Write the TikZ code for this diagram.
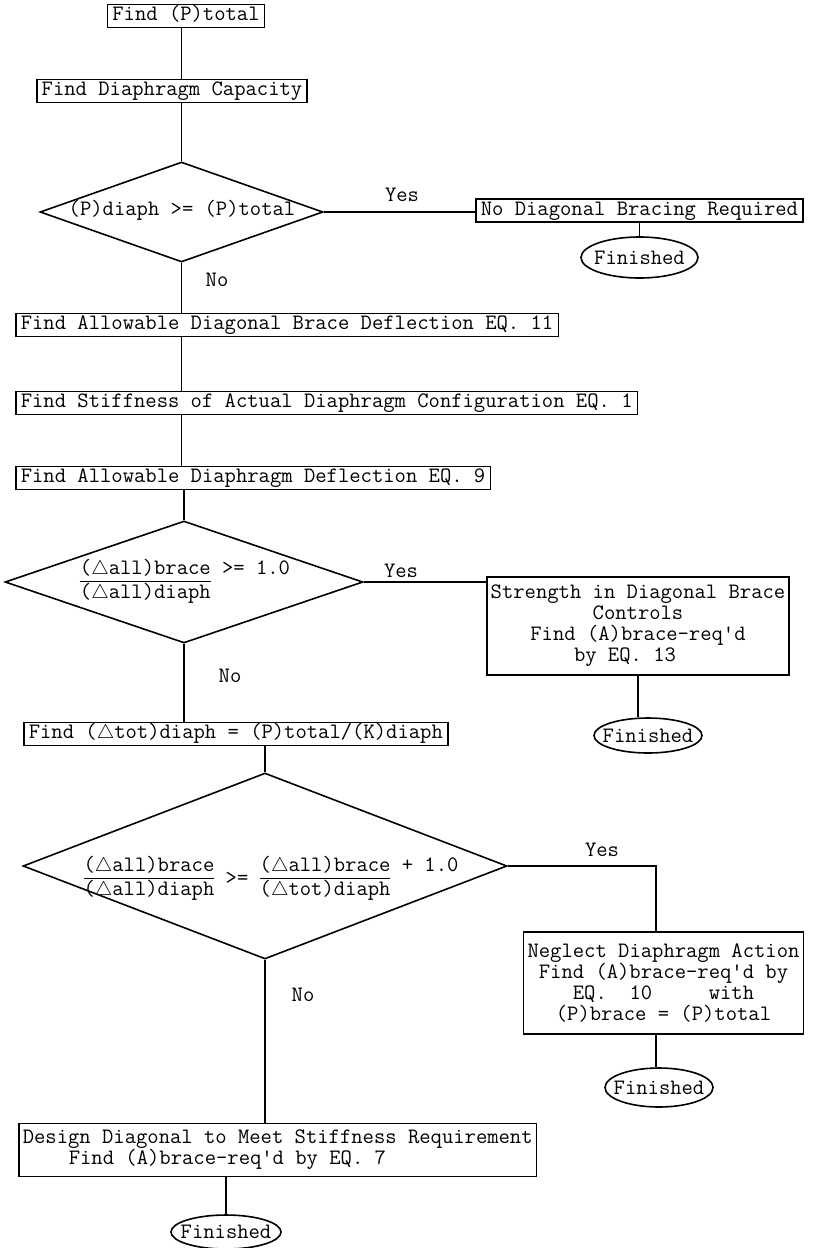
\documentclass[tikz,border=0pt]{standalone}
\usetikzlibrary{shapes.geometric}
\newcommand{\tri}{\scalebox{0.9}{$\triangle$}}

\begin{document}
\begin{tikzpicture}[x=0.5pt,y=-0.5pt,line width=0.8pt,
  every node/.style={font=\fontsize{11pt}{10.5pt}\selectfont\ttfamily},
  procbox/.style={draw,rectangle,inner xsep=2.5pt,inner ysep=0pt,minimum height=11.5pt,text height=7pt,text depth=2.2pt},
  multibox/.style={draw,rectangle,align=center,inner xsep=2pt},
  decision/.style={draw,diamond,inner sep=0pt},
  term/.style={draw,ellipse,inner sep=0pt}]
  \useasboundingbox (0,0) rectangle (815,1248);
  % cajas de arriba
  \node[procbox] (ptot) at (186,16) {Find (P)total};
  \node[procbox] (cap) at (172,91) {Find Diaphragm Capacity};
  % primera decision
  \node[decision,minimum width=141.5pt,minimum height=50pt] (dec1) at (181.5,212) {};
  \node (dec1txt) at (182,210) {(P)diaph >= (P)total};
  \node[procbox,anchor=west] (nobr) at (475,210.5) {No Diagonal Bracing Required};
  \node[term,minimum width=58.5pt,minimum height=20.5pt] (fin1) at (639.5,257.5) {\makebox[0pt]{Finished}};
  \node (yes1) at (402,195) {Yes};
  \node (no1) at (217,280) {No};
  % deflexiones y rigidez
  \node[procbox,anchor=west] (brdef) at (15,325) {Find Allowable Diagonal Brace Deflection EQ. 11};
  \node[procbox,anchor=west] (stiff) at (15,403) {Find Stiffness of Actual Diaphragm Configuration EQ. 1};
  \node[procbox,anchor=west] (dpdef) at (15,478) {Find Allowable Diaphragm Deflection EQ. 9};
  % segunda decision
  \node[decision,minimum width=179pt,minimum height=61pt] (dec2) at (184,582) {};
  \node (dec2txt) at (185,582) {\begin{tabular}[c]{@{}l@{}}\underline{(\tri all)brace} >= 1.0\\(\tri all)diaph\end{tabular}};
  \node[multibox,minimum height=49pt] (strength) at (638,626) {Strength in Diagonal Brace\\Controls\\Find (A)brace-req'd\\by EQ. 13\hspace*{13pt}};
  \node[term,minimum width=54pt,minimum height=17.5pt] (fin2) at (648,735.5) {\makebox[0pt]{Finished}};
  \node (yes2) at (401,571) {Yes};
  \node (no2) at (230,676) {No};
  % deflexion total
  \node[procbox,anchor=west] (totdef) at (23,734) {Find (\tri tot)diaph = (P)total/(K)diaph};
  % tercera decision
  \node[decision,minimum width=242pt,minimum height=93pt] (dec3) at (265,866) {};
  \node (dec3txt) at (271,879) {\begin{tabular}[c]{@{}l@{}}\underline{(\tri all)brace}\\(\tri all)diaph\end{tabular} >= \begin{tabular}[c]{@{}l@{}}\underline{(\tri all)brace} + 1.0\\(\tri tot)diaph\end{tabular}};
  \node[multibox,minimum height=51pt] (neglect) at (663.5,983) {Neglect Diaphragm Action\\Find (A)brace-req'd by\hspace*{11.6pt}\\EQ.~~10~~~~~with\\(P)brace = (P)total};
  \node[term,minimum width=54pt,minimum height=19.5pt] (fin3) at (659,1087.5) {\makebox[0pt]{Finished}};
  \node (yes3) at (602,850) {Yes};
  \node (no3) at (303,995) {No};
  % diseno por rigidez
  \node[multibox,align=left,minimum height=25pt,anchor=west] (design) at (18,1150) {Design Diagonal to Meet Stiffness Requirement\\\hspace*{23pt}Find (A)brace-req'd by EQ. 7};
  \node[term,minimum width=55pt,minimum height=17pt] (fin4) at (226,1232) {\makebox[0pt]{Finished}};
  % conectores
  \draw (ptot.south -| dec1.north) -- (cap.north -| dec1.north);
  \draw (cap.south -| dec1.north) -- (dec1.north);
  \draw (dec1.east) -- (dec1.east -| nobr.west);
  \draw (nobr.south -| fin1.north) -- (fin1.north);
  \draw (dec1.south) -- (dec1.south |- brdef.north);
  \draw (brdef.south -| dec1.south) -- (stiff.north -| dec1.south);
  \draw (stiff.south -| dec1.south) -- (dpdef.north -| dec1.south);
  \draw (dpdef.south -| dec2.north) -- (dec2.north);
  \draw (dec2.east) -- (dec2.east -| strength.west);
  \draw (strength.south) -- (strength.south |- fin2.north);
  \draw (dec2.south) -- (dec2.south |- totdef.north);
  \draw (totdef.south -| dec3.north) -- (dec3.north);
  \draw (dec3.east) -| ([xshift=-3.75pt]neglect.north);
  \draw ([xshift=-3.75pt]neglect.south) -- ([xshift=-3.75pt]neglect.south |- fin3.north);
  \draw (dec3.south) -- (dec3.south |- design.north);
  \draw (design.south -| fin4.north) -- (fin4.north);
\end{tikzpicture}
\end{document}
